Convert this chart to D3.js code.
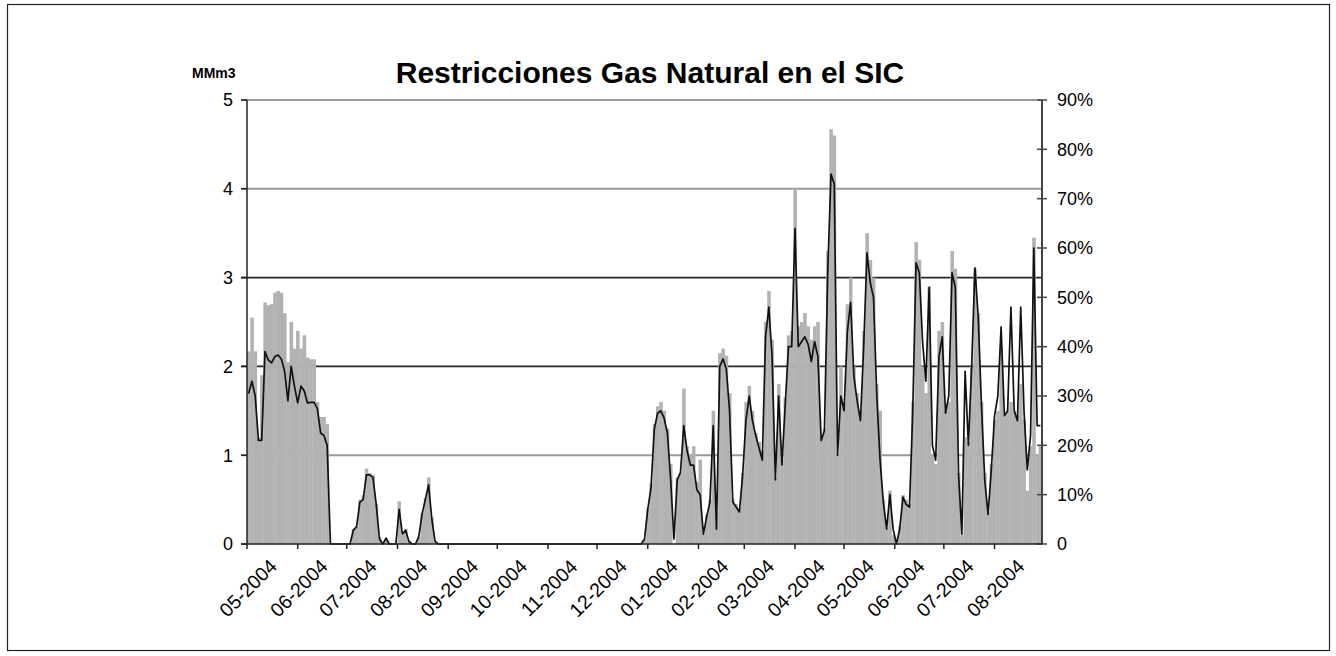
<!DOCTYPE html>
<html><head><meta charset="utf-8">
<script src="https://cdn.jsdelivr.net/npm/d3@7"></script>
<style>
body{margin:0;background:#fff}
svg{display:block}
text{font-family:"Liberation Sans",Arial,Helvetica,sans-serif;fill:#000}
</style>
</head><body>
<svg id="chart" width="1336" height="656"></svg>
<script>
// ---- data (2-day steps starting 2004-05-01) ----
const startDate = "2004-05-01";
const endDate = "2005-08-30";
const stepDays = 2;
const monthTicks = ["2004-05-01","2004-06-01","2004-07-01","2004-08-01","2004-09-01","2004-10-01","2004-11-01","2004-12-01",
  "2005-01-01","2005-02-01","2005-03-01","2005-04-01","2005-05-01","2005-06-01","2005-07-01","2005-08-01"];
const monthLabels = ["05-2004","06-2004","07-2004","08-2004","09-2004","10-2004","11-2004","12-2004",
  "01-2004","02-2004","03-2004","04-2004","05-2004","06-2004","07-2004","08-2004"];
const leftTicks = [0,1,2,3,4,5];
const rightTicks = [0,10,20,30,40,50,60,70,80,90];
const title = "Restricciones Gas Natural en el SIC";
const unitLabel = "MMm3";

// restricted volume, MMm3 (grey bars, left axis)
const volume = [
  2.17,2.55,2.17,1.2,1.9,2.72,2.69,2.7,2.83,2.85,
  2.83,2.6,2.05,2.5,2.2,2.4,2.2,2.35,2.1,2.08,
  2.08,1.6,1.43,1.43,1.35,0,0,0,0,0,
  0,0,0.17,0.2,0.5,0.55,0.85,0.8,0.78,0.45,
  0.08,0,0.06,0,0,0,0.48,0.1,0.17,0.03,
  0,0,0.08,0.35,0.52,0.75,0.3,0.02,0,0,
  0,0,0,0,0,0,0,0,0,0,
  0,0,0,0,0,0,0,0,0,0,
  0,0,0,0,0,0,0,0,0,0,
  0,0,0,0,0,0,0,0,0,0,
  0,0,0,0,0,0,0,0,0,0,
  0,0,0,0,0,0,0,0,0,0,
  0,0.05,0.4,0.68,1.35,1.55,1.6,1.5,1.3,0.9,
  0,0.75,0.8,1.75,1.1,1.0,1.1,0.7,0.95,0.12,
  0.33,0.5,1.5,0.35,2.15,2.2,2.12,1.7,0.5,0.45,
  0.4,0.8,1.6,1.78,1.5,1.25,1.15,1.05,2.5,2.85,
  2.3,0.75,1.8,0.95,1.65,2.35,2.4,4.0,2.45,2.5,
  2.6,2.45,2.3,2.45,2.5,1.2,1.3,3.3,4.67,4.6,
  1.0,2.0,1.6,2.7,3.0,2.0,1.7,1.5,2.4,3.5,
  3.2,3.0,1.8,1.5,0.5,0.18,0.6,0.1,0,0.2,
  0.55,0.5,0.45,1.6,3.4,3.2,2.0,1.7,2.9,1.0,
  0.9,2.4,2.5,1.5,1.6,3.3,3.1,0.8,0.1,1.2,
  1.15,2.0,3.1,2.6,1.6,0.8,0.35,0.9,1.4,1.5,
  2.2,1.45,1.5,1.6,1.5,1.45,1.8,1.4,0.6,1.1,
  3.45,1.0,1.1
];
// restriction share, % (black line, right axis)
const percent = [
  30.5,33,30,21,21,39,37.3,36.7,38,38.3,
  37.5,35,29,36,32,28.6,32,31,28.6,28.7,
  28.7,27.5,22.5,22,20,0,0,0,0,0,
  0,0,2.8,3.5,8.5,9,14,14,13.5,8,
  1,0,1.2,0,0,0,7,2,2.8,0.5,
  0,0,1.5,6,9,12,5,0.5,0,0,
  0,0,0,0,0,0,0,0,0,0,
  0,0,0,0,0,0,0,0,0,0,
  0,0,0,0,0,0,0,0,0,0,
  0,0,0,0,0,0,0,0,0,0,
  0,0,0,0,0,0,0,0,0,0,
  0,0,0,0,0,0,0,0,0,0,
  0,1,7,11.5,23.3,26.5,27,25.5,22.5,13,
  1,13,14.5,24,19,16,16,11,10,2,
  5.5,8.5,24,3,36,37.5,35.5,27,8.5,7.5,
  6.5,14,25,30,25,22,19.5,17,42,48,
  38,13,30,16,28,40,40,64,40,41,
  42,40.5,37,41,38,21,23,55,75,73,
  18,30,27,43,49,34,29,25,40,59,
  53,50,30,17,8.5,3,10,3,0,3,
  9.5,8,7.5,27,57,55,41,33,52,20,
  17,38,42,26.5,30,55,52,14,2,35,
  20,36,56,46,28,13,6,15,26,30,
  44,26,27,48,27,25,48,27,15,22,
  60,24,24
];

// ---- drawing ----
const svg = d3.select("#chart");
const parse = d3.utcParse("%Y-%m-%d");
const t0 = parse(startDate);
const dates = volume.map((_, i) => d3.utcDay.offset(t0, i * stepDays));

const L = 247, R = 1042, T = 100, B = 544;
const x = d3.scaleUtc().domain([t0, parse(endDate)]).range([L, R]);
const yL = d3.scaleLinear().domain([0, 5]).range([B, T]);
const yR = d3.scaleLinear().domain([0, 90]).range([B, T]);

// outer frame
svg.append("rect").attr("x", 7.5).attr("y", 4.5).attr("width", 1322).attr("height", 646)
  .attr("fill", "none").attr("stroke", "#222").attr("stroke-width", 1.2);

// grid lines
const gridColor = v => (v === 2 || v === 3) ? "#262626" : "#9a9a9a";
svg.append("g").selectAll("line").data(leftTicks.filter(v => v > 0)).join("line")
  .attr("x1", L - 6).attr("x2", R).attr("y1", d => yL(d)).attr("y2", d => yL(d))
  .attr("stroke", gridColor).attr("stroke-width", d => (d === 2 || d === 3) ? 1.6 : 2);

// bars
svg.append("g").selectAll("rect").data(volume).join("rect")
  .attr("x", (d, i) => x(dates[i]))
  .attr("width", (d, i) => x(d3.utcDay.offset(dates[i], stepDays)) - x(dates[i]) + 0.3)
  .attr("y", d => yL(d))
  .attr("height", d => B - yL(d))
  .attr("fill", "#b2b2b2");

// line
const line = d3.line()
  .x((d, i) => x(d3.utcDay.offset(dates[i], stepDays / 2)))
  .y(d => yR(d));
svg.append("path").datum(percent).attr("d", line)
  .attr("fill", "none").attr("stroke", "#111").attr("stroke-width", 1.7)
  .attr("stroke-linejoin", "round");

// left axis
const gl = svg.append("g");
gl.append("line").attr("x1", L).attr("x2", L).attr("y1", T).attr("y2", B)
  .attr("stroke", "#222").attr("stroke-width", 1.5);
gl.selectAll("line.t").data(leftTicks).join("line").attr("class", "t")
  .attr("x1", L - 6).attr("x2", L).attr("y1", d => yL(d)).attr("y2", d => yL(d))
  .attr("stroke", "#222").attr("stroke-width", 1.5);
gl.selectAll("text").data(leftTicks).join("text")
  .attr("x", L - 14).attr("y", d => yL(d)).attr("dy", "0.36em")
  .attr("text-anchor", "end").attr("font-size", 18).text(d => d);

// right axis
const gr = svg.append("g");
gr.append("line").attr("x1", R).attr("x2", R).attr("y1", T).attr("y2", B)
  .attr("stroke", "#444").attr("stroke-width", 2);
gr.selectAll("line.t").data(rightTicks).join("line").attr("class", "t")
  .attr("x1", R - 5).attr("x2", R + 5).attr("y1", d => yR(d)).attr("y2", d => yR(d))
  .attr("stroke", "#444").attr("stroke-width", 1.5);
gr.selectAll("text").data(rightTicks).join("text")
  .attr("x", R + 15).attr("y", d => yR(d)).attr("dy", "0.36em")
  .attr("font-size", 18).text(d => d === 0 ? "0" : d + "%");

// bottom axis
const gb = svg.append("g");
gb.append("line").attr("x1", L - 6).attr("x2", R).attr("y1", B).attr("y2", B)
  .attr("stroke", "#222").attr("stroke-width", 1.6);
const tickDates = monthTicks.map(parse);
gb.selectAll("line.t").data(tickDates).join("line").attr("class", "t")
  .attr("x1", d => x(d)).attr("x2", d => x(d)).attr("y1", B).attr("y2", B + 5)
  .attr("stroke", "#222").attr("stroke-width", 1.5);
gb.selectAll("text").data(tickDates).join("text")
  .attr("transform", d => `translate(${x(d) + 1},${B + 44}) rotate(-45)`)
  .attr("text-anchor", "middle").attr("dy", "0.35em").attr("font-size", 19.5)
  .text((d, i) => monthLabels[i]);

// titles
svg.append("text").attr("x", 650).attr("y", 83).attr("text-anchor", "middle")
  .attr("font-size", 30).attr("font-weight", "bold").text(title);
svg.append("text").attr("x", 192).attr("y", 78)
  .attr("font-size", 14).attr("font-weight", "bold").text(unitLabel);
</script>
</body></html>
